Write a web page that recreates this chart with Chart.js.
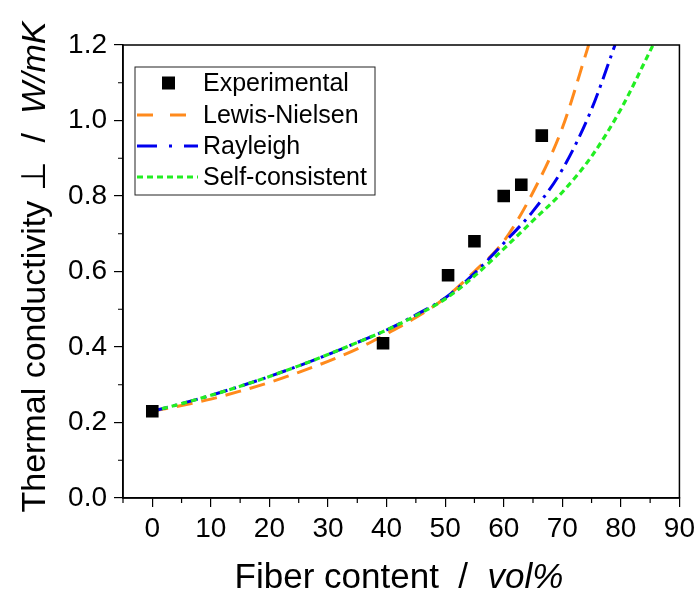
<!DOCTYPE html>
<html>
<head>
<meta charset="utf-8">
<script src="https://cdn.jsdelivr.net/npm/chart.js@4.4.0/dist/chart.umd.min.js"></script>
<style>
  html, body { margin: 0; padding: 0; background: #fff; }
  #wrap { width: 700px; height: 593px; }
</style>
</head>
<body>
<div id="wrap"><canvas id="chart" width="700" height="593"></canvas></div>
<script>
// tick labels
const xTicks = [0, 10, 20, 30, 40, 50, 60, 70, 80, 90]
const yTicks = [0, 0.2, 0.4, 0.6, 0.8, 1.0, 1.2]

// experimental points
const expX = [0, 39.4, 50.5, 55, 60, 63, 66.5]
const expY = [0.23, 0.41, 0.59, 0.68, 0.80, 0.83, 0.96]

// model curves
const lnX = [0, 5, 10, 15, 20, 25, 30, 35, 40, 45, 50, 55, 60, 65, 70, 74.5]
const lnY = [0.23, 0.245, 0.262, 0.283, 0.306, 0.333, 0.362, 0.395, 0.435, 0.478, 0.53, 0.60, 0.68, 0.81, 0.98, 1.2]

const rayX = [0, 5, 10, 15, 20, 25, 30, 35, 40, 45, 50, 55, 60, 65, 70, 75, 79]
const rayY = [0.23, 0.25, 0.272, 0.296, 0.322, 0.35, 0.38, 0.412, 0.445, 0.485, 0.53, 0.595, 0.675, 0.76, 0.87, 1.03, 1.2]

const scX = [0, 5, 10, 15, 20, 25, 30, 35, 40, 45, 50, 55, 60, 65, 70, 75, 80, 85.5]
const scY = [0.23, 0.25, 0.272, 0.296, 0.322, 0.35, 0.38, 0.412, 0.445, 0.483, 0.527, 0.588, 0.66, 0.735, 0.81, 0.905, 1.03, 1.2]

function pts(xs, ys) {
  return xs.map((x, i) => ({ x: x, y: ys[i] }))
}

const FONT = '"Liberation Sans", Arial, sans-serif'

// box, minor ticks, titles, legend
const decor = {
  id: 'decor',
  afterDraw(chart) {
    const ctx = chart.ctx
    const a = chart.chartArea
    const xs = chart.scales.x
    const ys = chart.scales.y
    ctx.save()
    ctx.strokeStyle = '#000'
    ctx.lineWidth = 1.5
    ctx.strokeRect(a.left, a.top, a.right - a.left, a.bottom - a.top)

    // minor ticks
    ctx.lineWidth = 1.2
    ctx.beginPath()
    for (let v = -5; v <= 90; v += 10) {
      if (v < xs.min) continue
      const px = xs.getPixelForValue(v)
      ctx.moveTo(px, a.bottom)
      ctx.lineTo(px, a.bottom + 5)
    }
    for (let v = 0.1; v < 1.2; v += 0.2) {
      const py = ys.getPixelForValue(v)
      ctx.moveTo(a.left, py)
      ctx.lineTo(a.left - 5, py)
    }
    ctx.stroke()

    // x title
    ctx.fillStyle = '#000'
    ctx.textBaseline = 'alphabetic'
    ctx.font = '35px ' + FONT
    const t1 = 'Fiber content  /  '
    const w1 = ctx.measureText(t1).width
    ctx.font = 'italic 35px ' + FONT
    const t2 = 'vol%'
    const w2 = ctx.measureText(t2).width
    let sx = 399 - (w1 + w2) / 2
    ctx.font = '35px ' + FONT
    ctx.fillText(t1, sx, 588)
    ctx.font = 'italic 35px ' + FONT
    ctx.fillText(t2, sx + w1, 588)

    // y title
    ctx.save()
    ctx.translate(45, 267)
    ctx.rotate(-Math.PI / 2)
    ctx.font = '34px ' + FONT
    const y1 = 'Thermal conductivity \u22A5  /  '
    const yw1 = ctx.measureText(y1).width
    ctx.font = 'italic 34px ' + FONT
    const y2 = 'W/mK'
    const yw2 = ctx.measureText(y2).width
    let sy = -(yw1 + yw2) / 2
    ctx.font = '34px ' + FONT
    ctx.fillText(y1, sy, 0)
    ctx.font = 'italic 34px ' + FONT
    ctx.fillText(y2, sy + yw1, 0)
    ctx.restore()

    // legend
    const lx = 135, ly = 67, lw = 240, lh = 128
    ctx.fillStyle = '#fff'
    ctx.fillRect(lx, ly, lw, lh)
    ctx.strokeStyle = '#222'
    ctx.lineWidth = 1
    ctx.strokeRect(lx, ly, lw, lh)
    const rows = [83, 115, 146, 177]
    ctx.font = '25px ' + FONT
    ctx.textBaseline = 'middle'
    chart.data.datasets.forEach((ds, i) => {
      const ry = rows[i]
      if (ds.showLine === false) {
        ctx.fillStyle = ds.backgroundColor
        ctx.fillRect(162, ry - 6.5, 13, 13)
      } else {
        ctx.strokeStyle = ds.borderColor
        ctx.lineWidth = ds.borderWidth
        ctx.setLineDash(ds.legendDash)
        ctx.beginPath()
        ctx.moveTo(137, ry)
        ctx.lineTo(198, ry)
        ctx.stroke()
        ctx.setLineDash([])
      }
      ctx.fillStyle = '#000'
      ctx.fillText(ds.label, 203, ry + 1)
    })
    ctx.restore()
  }
}

const chart = document.getElementById('chart')

let lineChart = new Chart(chart, {
  type: 'scatter',
  data: {
    datasets: [
      {
        label: 'Experimental',
        data: pts(expX, expY),
        showLine: false,
        pointStyle: 'rect',
        pointRadius: 8.9,
        pointHoverRadius: 8.9,
        backgroundColor: '#000',
        borderColor: '#000',
        borderWidth: 0,
        order: 0
      },
      {
        label: 'Lewis-Nielsen',
        data: pts(lnX, lnY),
        showLine: true,
        pointRadius: 0,
        borderColor: '#ff8a1c',
        borderWidth: 3,
        borderDash: [16, 9],
        legendDash: [16, 17],
        cubicInterpolationMode: 'monotone',
        order: 3
      },
      {
        label: 'Rayleigh',
        data: pts(rayX, rayY),
        showLine: true,
        pointRadius: 0,
        borderColor: '#0000ee',
        borderWidth: 3,
        borderDash: [16, 6, 3, 6],
        legendDash: [20, 12, 3, 12],
        cubicInterpolationMode: 'monotone',
        order: 2
      },
      {
        label: 'Self-consistent',
        data: pts(scX, scY),
        showLine: true,
        pointRadius: 0,
        borderColor: '#22ee22',
        borderWidth: 3.2,
        borderDash: [6, 4],
        legendDash: [6, 4],
        cubicInterpolationMode: 'monotone',
        order: 1
      }
    ]
  },
  options: {
    responsive: false,
    animation: false,
    layout: { padding: { top: 45, right: 16, left: 0, bottom: 0 } },
    plugins: {
      legend: { display: false },
      tooltip: { enabled: false }
    },
    scales: {
      x: {
        type: 'linear',
        min: -5,
        max: 90,
        afterBuildTicks: (s) => { s.ticks = xTicks.map(v => ({ value: v })) },
        afterFit: (s) => { s.height = 95 },
        border: { display: true, color: '#000', width: 1.5 },
        grid: { drawOnChartArea: false, drawTicks: true, tickLength: 9, color: '#000', lineWidth: 1.2 },
        ticks: { color: '#000', font: { family: FONT, size: 28 }, padding: 5, maxRotation: 0 }
      },
      y: {
        type: 'linear',
        min: 0,
        max: 1.2,
        afterBuildTicks: (s) => { s.ticks = yTicks.map(v => ({ value: v })) },
        afterFit: (s) => { s.width = 123 },
        border: { display: true, color: '#000', width: 1.5 },
        grid: { drawOnChartArea: false, drawTicks: true, tickLength: 9, color: '#000', lineWidth: 1.2 },
        ticks: { color: '#000', font: { family: FONT, size: 28 }, padding: 7, callback: (v) => v.toFixed(1) }
      }
    }
  },
  plugins: [decor]
})
</script>
</body>
</html>
